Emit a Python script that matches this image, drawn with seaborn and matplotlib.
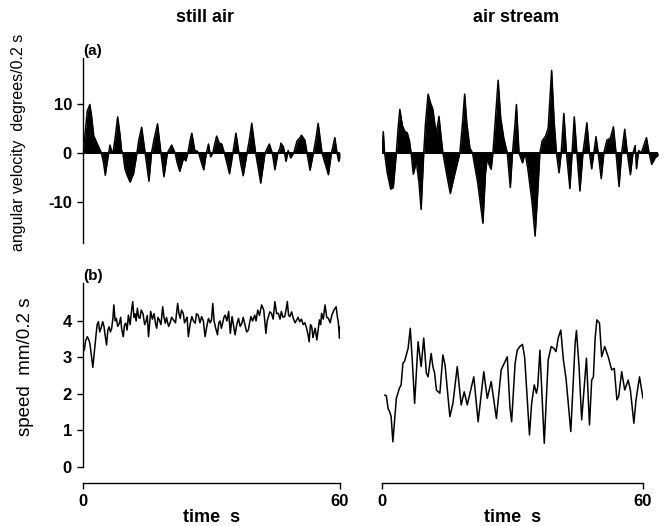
import numpy as np
import pandas as pd
import matplotlib.pyplot as plt
import seaborn as sns

# angular velocity (degrees/0.2 s) vs time (s), still air
still_av_t = [0.0, 0.5, 1.0, 1.6, 2.0, 2.5, 3.3, 4.0, 4.3, 4.8,
              5.2, 5.6, 6.0, 6.3, 6.7, 7.0, 7.5, 8.1, 8.6, 9.0,
              9.3, 9.8, 10.3, 11.0, 11.5, 11.8, 12.6, 13.0, 13.7, 14.5,
              14.9, 15.4, 16.0, 16.6, 17.4, 18.2, 18.5, 18.9, 19.7, 20.2,
              20.7, 21.5, 22.0, 22.6, 23.5, 24.0, 24.5, 25.0, 25.4, 26.1,
              26.6, 27.0, 27.6, 28.2, 28.8, 29.3, 29.8, 30.3, 30.8, 31.2,
              31.8, 32.4, 33.0, 33.6, 34.2, 35.0, 35.7, 36.4, 36.9, 37.4,
              38.3, 38.9, 39.4, 40.3, 40.9, 41.5, 42.5, 43.5, 44.2, 44.8,
              45.5, 46.0, 46.2, 46.8, 47.4, 47.9, 48.5, 49.2, 50.0, 50.6,
              51.0, 51.8, 52.3, 53.0, 53.8, 54.4, 54.9, 55.8, 56.3, 57.3,
              58.0, 58.8, 59.3, 59.7, 60.0]
still_av_v = [0.0, 4.0, 8.5, 9.8, 7.5, 3.5, 1.9, 0.6, 0.0, -2.0,
              -4.5, -2.2, 0.0, 1.6, 0.3, 0.0, 3.0, 7.3, 4.0, 0.5,
              0.0, -3.2, -4.5, -5.9, -4.8, -4.2, 0.0, 2.5, 5.2, 0.0,
              -2.5, -5.7, 0.0, 2.8, 5.9, 0.0, -2.0, -4.8, 0.0, 0.8,
              1.6, 0.0, -2.0, -3.7, -1.0, -1.6, 0.0, 2.5, 4.0, 0.5,
              0.4, 0.0, -1.8, -3.4, 0.0, 1.8, -0.8, 0.0, 2.0, 3.4,
              2.0, 1.8, 0.0, -2.0, -4.2, 0.0, 4.0, 0.0, -2.5, -4.6,
              0.0, 3.0, 6.0, 0.0, -3.0, -6.1, 0.0, 1.8, 0.0, -3.4,
              0.0, 1.0, 2.0, 1.2, -1.7, 0.5, -1.0, 0.0, 2.5, 3.0,
              3.6, 2.6, 0.0, -3.5, 0.0, 3.0, 6.0, 0.0, -1.5, -4.4,
              0.0, 3.1, 0.0, -1.7, -1.0]

# angular velocity, air stream
stream_av_t = [0.0, 0.3, 0.6, 1.2, 2.0, 2.6, 3.3, 3.7, 4.1, 4.7,
               5.3, 5.8, 6.3, 6.7, 7.2, 7.9, 8.5, 9.0, 9.6, 10.0,
               10.6, 11.2, 11.7, 12.2, 12.5, 13.1, 13.5, 14.0, 14.8, 15.7,
               16.8, 17.9, 18.5, 19.0, 19.5, 20.2, 20.8, 22.0, 23.2, 23.8,
               24.2, 24.6, 25.1, 25.5, 26.0, 26.7, 27.3, 28.0, 28.8, 29.5,
               30.0, 30.5, 30.9, 31.5, 32.3, 32.9, 33.5, 34.5, 35.2, 35.8,
               36.3, 36.8, 37.6, 38.2, 39.0, 39.6, 40.1, 40.7, 41.2, 41.8,
               42.4, 43.2, 43.7, 44.2, 44.8, 45.5, 46.2, 47.1, 47.7, 48.2,
               48.7, 49.2, 49.7, 50.4, 51.0, 51.7, 52.5, 53.2, 53.8, 54.5,
               55.1, 55.8, 56.4, 57.1, 57.7, 58.2, 58.5, 59.0, 59.6, 60.8,
               61.4, 62.0, 62.8, 63.5]
stream_av_v = [0.0, 4.3, 0.0, -4.0, -7.3, -7.0, 0.0, 5.0, 8.8, 5.5,
               4.3, 4.1, 2.5, 0.0, -4.3, -1.8, -6.0, -11.4, 0.0, 6.0,
               11.9, 10.0, 8.8, 5.5, 4.0, 7.4, 4.0, 0.0, -4.0, -8.2,
               -4.0, 0.0, 6.0, 11.9, 6.0, 1.0, 0.0, -6.0, -14.2, -4.0,
               -1.0, -2.3, -3.3, 0.0, 6.0, 14.7, 7.0, 3.0, 0.0, -7.0,
               0.0, 5.0, 9.8, 0.0, -2.0, 0.0, -3.0, -10.0, -16.8, -8.0,
               0.0, 2.4, 3.4, 5.0, 16.7, 6.0, 0.0, -4.0, 0.0, 8.0,
               0.0, -7.2, 0.0, 7.3, 0.0, -7.7, 0.0, 6.1, 0.0, -3.2,
               0.0, 3.3, 0.0, -5.2, 0.0, 2.6, 3.0, 5.3, 0.0, -6.8,
               0.0, 4.8, 0.0, -4.4, 0.0, 1.5, -3.2, 0.5, 0.0, 3.1,
               0.0, -2.3, -1.0, -0.5]

# speed (mm/0.2 s), still air
still_sp_t = [0.3, 0.6, 1.0, 1.3, 1.6, 2.0, 2.3, 2.6, 3.0, 3.3,
              3.6, 3.9, 4.2, 4.6, 4.9, 5.1, 5.5, 5.8, 6.1, 6.4,
              6.7, 7.0, 7.2, 7.5, 7.8, 8.1, 8.5, 8.8, 9.0, 9.4,
              9.7, 10.0, 10.3, 10.6, 11.0, 11.3, 11.6, 11.9, 12.1, 12.4,
              12.7, 13.0, 13.3, 13.6, 14.0, 14.4, 14.7, 15.0, 15.3, 15.6,
              15.8, 16.2, 16.6, 16.9, 17.2, 17.5, 17.8, 18.2, 18.6, 18.9,
              19.2, 19.5, 19.7, 20.0, 20.3, 20.7, 21.1, 21.6, 22.1, 22.4,
              22.7, 23.0, 23.4, 23.7, 24.0, 24.3, 24.6, 25.0, 25.4, 25.8,
              26.2, 26.5, 26.9, 27.3, 27.7, 28.1, 28.5, 28.9, 29.3, 29.7,
              30.0, 30.3, 30.6, 30.9, 31.4, 31.7, 32.0, 32.3, 32.6, 32.9,
              33.2, 33.6, 34.0, 34.4, 34.8, 35.1, 35.5, 35.9, 36.3, 36.7,
              37.1, 37.4, 37.8, 38.2, 38.6, 38.9, 39.2, 39.6, 40.1, 40.4,
              40.8, 41.2, 41.7, 42.2, 42.7, 43.0, 43.3, 43.6, 44.0, 44.4,
              44.8, 45.2, 45.6, 46.0, 46.3, 46.7, 47.1, 47.4, 47.7, 48.0,
              48.3, 48.7, 49.1, 49.5, 49.9, 50.2, 50.6, 51.0, 51.4, 51.8,
              52.2, 52.5, 52.8, 53.1, 53.4, 53.7, 53.9, 54.2, 54.6, 54.9,
              55.2, 55.5, 55.7, 56.1, 56.5, 56.9, 57.3, 57.7, 58.1, 58.6,
              59.1, 59.4, 59.6, 59.9, 60.0]
still_sp_v = [3.2, 3.45, 3.57, 3.5, 3.39, 3.0, 2.73, 3.1, 3.57, 3.9,
              3.98, 3.7, 3.8, 3.98, 3.85, 3.66, 3.34, 3.75, 3.84, 3.7,
              3.8, 4.1, 4.44, 4.0, 4.07, 3.85, 3.94, 4.1, 3.8, 3.57,
              3.9, 3.94, 3.75, 4.16, 3.9, 4.25, 4.53, 4.1, 4.2, 4.0,
              4.35, 4.1, 4.07, 4.3, 4.2, 3.9, 3.98, 4.15, 3.57, 4.0,
              4.26, 4.05, 4.2, 3.95, 3.8, 4.1, 4.03, 3.9, 4.39, 4.1,
              3.94, 4.1, 3.98, 3.85, 3.94, 4.1, 4.03, 3.95, 4.48, 4.2,
              4.07, 4.3, 4.21, 3.95, 4.03, 4.1, 3.57, 3.9, 4.12, 4.0,
              3.94, 4.2, 4.16, 3.95, 4.12, 4.0, 3.57, 3.85, 4.07, 3.95,
              4.03, 4.48, 4.0, 3.84, 3.62, 3.95, 4.0, 3.8, 3.94, 4.1,
              4.16, 4.0, 4.26, 3.66, 4.12, 3.9, 3.62, 3.9, 4.07, 3.85,
              3.94, 4.1, 3.9, 3.7, 3.75, 3.95, 4.12, 4.0, 4.16, 4.0,
              4.3, 4.15, 4.44, 4.3, 3.66, 4.0, 4.12, 4.25, 4.21, 4.05,
              4.53, 4.2, 4.21, 4.05, 4.26, 4.1, 4.12, 4.3, 4.53, 4.15,
              4.12, 4.25, 4.07, 3.95, 4.03, 4.1, 3.98, 4.05, 3.9, 3.95,
              3.8, 3.65, 3.43, 3.9, 3.84, 3.55, 3.66, 3.8, 3.48, 3.75,
              4.03, 3.9, 4.21, 4.05, 4.44, 4.1, 4.07, 3.95, 4.16, 4.3,
              4.39, 4.1, 3.98, 3.53, 3.84]

# speed, air stream
stream_sp_t = [0.6, 1.0, 1.4, 1.8, 2.1, 2.5, 3.3, 4.0, 4.4, 4.8,
               5.2, 6.0, 6.5, 7.0, 7.5, 8.3, 9.0, 9.6, 10.2, 10.6,
               11.3, 11.7, 12.1, 12.5, 13.3, 14.0, 14.5, 15.6, 16.3, 17.3,
               18.2, 18.9, 19.6, 21.1, 22.1, 23.4, 24.2, 25.1, 26.3, 27.4,
               28.1, 28.8, 29.4, 29.8, 30.6, 31.1, 31.7, 32.3, 32.8, 33.9,
               34.4, 35.0, 35.5, 35.8, 36.3, 37.3, 38.2, 38.9, 39.5, 40.0,
               40.5, 41.1, 41.7, 42.3, 43.4, 44.4, 44.7, 45.3, 45.9, 47.0,
               47.7, 48.2, 48.6, 49.0, 49.4, 50.0, 50.5, 51.2, 52.0, 52.8,
               53.4, 54.0, 54.4, 55.1, 55.8, 56.6, 57.1, 57.9, 58.4, 59.2,
               60.0]
stream_sp_v = [1.97, 1.95, 1.6, 1.5, 1.38, 0.69, 1.88, 2.16, 2.25, 2.84,
               2.9, 3.25, 3.8, 2.84, 1.74, 3.43, 2.75, 3.53, 2.57, 2.47,
               3.11, 2.75, 2.57, 2.11, 2.02, 3.07, 2.79, 1.38, 1.74, 2.75,
               1.7, 2.06, 1.7, 2.47, 1.24, 2.61, 1.88, 2.34, 1.33, 2.66,
               2.84, 3.02, 1.65, 1.24, 2.84, 3.2, 3.3, 3.36, 3.0, 0.88,
               1.74, 2.25, 2.02, 2.2, 3.2, 0.65, 2.93, 3.3, 3.25, 3.16,
               3.53, 3.75, 2.93, 2.43, 0.97, 3.39, 3.74, 2.75, 1.29, 2.98,
               1.15, 2.38, 2.47, 3.53, 4.03, 3.94, 3.02, 3.3, 3.02, 2.66,
               2.7, 1.84, 1.93, 2.61, 2.11, 2.38, 2.11, 1.2, 1.84, 2.47,
               1.88]

av_ticks = [-10, 0, 10]
sp_ticks = [0, 1, 2, 3, 4]
time_ticks = [0, 60]

sns.set_theme(style="white")
plt.rcParams['font.family'] = ['Liberation Sans', 'DejaVu Sans']
plt.rcParams['axes.unicode_minus'] = False
plt.rcParams['text.color'] = 'black'
plt.rcParams['axes.labelcolor'] = 'black'
plt.rcParams['xtick.labelcolor'] = 'black'
plt.rcParams['ytick.labelcolor'] = 'black'

fig = plt.figure(figsize=(6.64, 5.26), dpi=100)
W, H = 664, 526


def px_axes(x0, y_top, w, h):
    return fig.add_axes([x0 / W, 1 - (y_top + h) / H, w / W, h / H])


ax_a1 = px_axes(83, 58, 257, 185)
ax_a2 = px_axes(382, 58, 261 * 63.5 / 60, 185)
ax_b1 = px_axes(83, 283, 257, 184)
ax_b2 = px_axes(382, 283, 261, 184)

# (a) angular velocity, filled area
for ax, t, v, xmax in [(ax_a1, still_av_t, still_av_v, 60),
                       (ax_a2, stream_av_t, stream_av_v, 63.5)]:
    ax.fill_between(t, v, 0, color="black", lw=0)
    sns.lineplot(x=t, y=v, ax=ax, color="black", lw=1.1,
                 estimator=None, sort=False)
    ax.axhline(0, color="black", lw=1.4)
    ax.set_xlim(0, xmax)
    ax.set_ylim(-18.2, 19.2)

# (b) speed, line
for ax, t, v in [(ax_b1, still_sp_t, still_sp_v),
                 (ax_b2, stream_sp_t, stream_sp_v)]:
    sns.lineplot(x=t, y=v, ax=ax, color="black", lw=1.1,
                 estimator=None, sort=False)
    ax.set_xlim(0, 60)
    ax.set_ylim(0, 5.04)

tick_kw = dict(direction="out", length=4, width=1, color="black",
               labelsize=12, pad=4, labelcolor="black")

# top-left: left spine only
sns.despine(ax=ax_a1, bottom=True)
ax_a1.set_xticks([])
ax_a1.set_yticks(av_ticks)
ax_a1.tick_params(axis="y", left=True, **tick_kw)

# top-right: no axes at all
sns.despine(ax=ax_a2, left=True, bottom=True)
ax_a2.set_xticks([])
ax_a2.set_yticks([])

# bottom-left: left spine + detached time axis
sns.despine(ax=ax_b1)
ax_b1.spines["bottom"].set_position(("outward", 11.5))
ax_b1.set_yticks(sp_ticks)
ax_b1.set_xticks(time_ticks)
ax_b1.tick_params(axis="both", left=True, bottom=True, **tick_kw)

# bottom-right: detached time axis only
sns.despine(ax=ax_b2, left=True)
ax_b2.spines["bottom"].set_position(("outward", 11.5))
ax_b2.set_yticks([])
ax_b2.set_xticks(time_ticks)
ax_b2.tick_params(axis="x", bottom=True, **tick_kw)

for ax in [ax_a1, ax_b1, ax_b2]:
    for s in ax.spines.values():
        s.set_color("black")
        s.set_linewidth(1)
    for lab in ax.get_xticklabels() + ax.get_yticklabels():
        lab.set_fontweight("bold")

ax_a1.set_ylabel("angular velocity  degrees/0.2 s", fontsize=11.5)
ax_a1.yaxis.set_label_coords(-0.222, 0.546)
ax_b1.set_ylabel("speed  mm/0.2 s", fontsize=13.5)
ax_b1.yaxis.set_label_coords(-0.19, 0.543)
ax_b1.set_xlabel("time  s", fontsize=13, fontweight="bold", labelpad=0)
ax_b2.set_xlabel("time  s", fontsize=13, fontweight="bold", labelpad=0)

fig.text(205 / W, 1 - 18 / H, "still air", fontsize=13, fontweight="bold",
         ha="center", va="center")
fig.text(516 / W, 1 - 18 / H, "air stream", fontsize=13, fontweight="bold",
         ha="center", va="center")

ax_a1.text(0, 1.0, "(a)", transform=ax_a1.transAxes, fontsize=11,
           fontweight="bold", ha="left", va="bottom")
ax_b1.text(0, 1.0, "(b)", transform=ax_b1.transAxes, fontsize=11,
           fontweight="bold", ha="left", va="bottom")

fig.savefig("out.png", dpi=100)
